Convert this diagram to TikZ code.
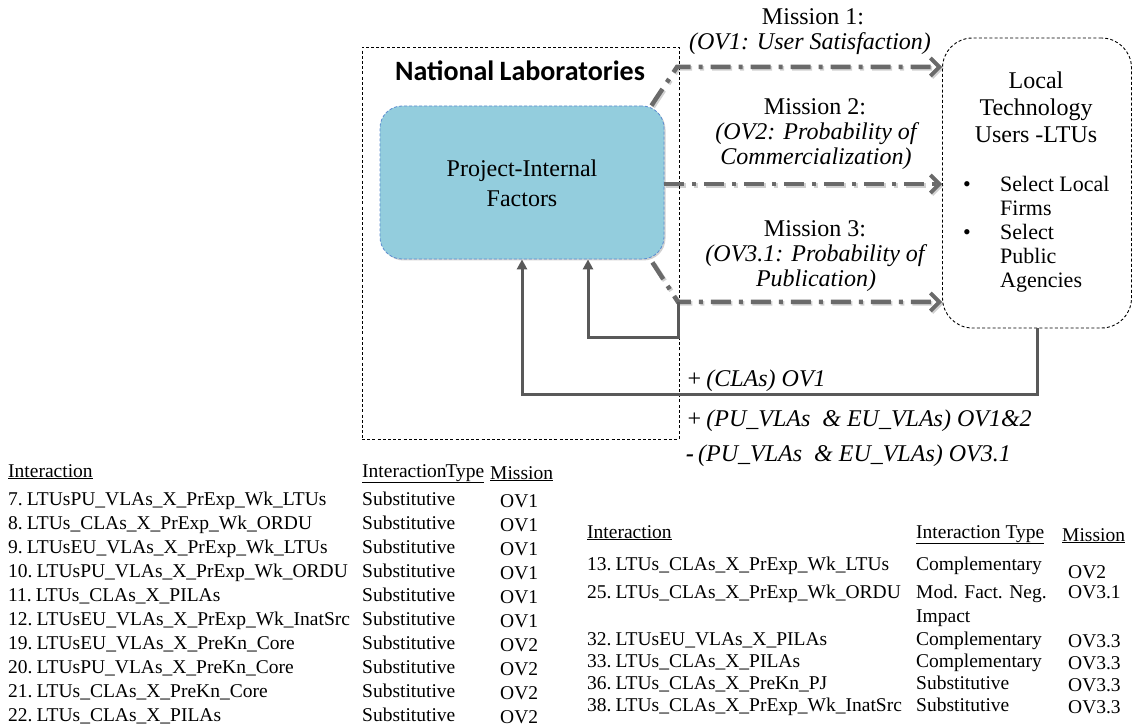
\documentclass[tikz,border=0pt]{standalone}
\usepackage{fontspec}
\setmainfont{Liberation Serif}
\newfontfamily\carl{Carlito}
\usetikzlibrary{arrows.meta,shadows}
\definecolor{pifill}{HTML}{93CDDD}
\definecolor{piedge}{HTML}{5B8BD0}
\definecolor{ddgray}{HTML}{6A6A6A}
\definecolor{fbgray}{HTML}{595959}
\begin{document}
\begin{tikzpicture}[x=1pt,y=-1pt,
  dbox/.style={draw=black, line width=0.9pt, dash pattern=on 3pt off 2.2pt},
  mt/.style={font=\fontsize{24}{26}\selectfont, anchor=base, inner sep=0pt},
  mti/.style={font=\fontsize{24}{26}\selectfont\itshape, anchor=base, inner sep=0pt},
  dda/.style={draw=ddgray, line width=4.5pt, dash pattern=on 20pt off 8pt on 4pt off 8pt,
    -{Straight Barb[length=9pt,width=18pt,line width=3.8pt]}},
  ddsh/.style={dda, draw=black, opacity=0.18, transform canvas={xshift=1.5pt,yshift=-1.5pt}},
  fb/.style={draw=fbgray, line width=3pt, -{Triangle[length=10pt,width=10pt]}},
  lbl/.style={font=\fontsize{24}{26}\selectfont\itshape, anchor=base west, inner sep=0pt},
  bt/.style={font=\fontsize{22}{24}\selectfont, anchor=base west, inner sep=0pt},
  tb/.style={font=\fontsize{19.5}{22}\selectfont, anchor=base west, inner sep=0pt}
]
\useasboundingbox (0,0) rectangle (1141,727);

% boxes
\node[dbox, minimum width=317pt, minimum height=392pt, inner sep=0pt] (natlab) at (520.5,243) {};
\node[font=\carl\bfseries\fontsize{28}{30}\selectfont, anchor=base, inner sep=0pt] (natlabel) at (520,81) {National\kern-1pt\ Laboratories};
\node[fill=pifill, draw=piedge, line width=0.8pt, dash pattern=on 3pt off 2pt,
      rounded corners=22pt, minimum width=284pt, minimum height=153pt, inner sep=0pt,
      drop shadow={shadow xshift=1.5pt, shadow yshift=-1.5pt, opacity=0.3, fill=black!60}] (pif) at (522,182.5) {};
\node[mt] (pif1) at (522,177) {Project-Internal};
\node[mt] (pif2) at (522,207) {Factors};

\node[dbox, rounded corners=30pt, minimum width=189pt, minimum height=290pt, inner sep=0pt] (ltu) at (1037,183) {};
\node[mt] (ltu1) at (1036,89) {Local};
\node[mt] (ltu2) at (1036,116) {Technology};
\node[mt] (ltu3) at (1036,143) {Users -LTUs};
\node[bt] (b1) at (963,192) {\textbullet};
\node[bt] (b1a) at (1000,192) {Select Local};
\node[bt] (b1b) at (1000,216) {Firms};
\node[bt] (b2) at (963,240) {\textbullet};
\node[bt] (b2a) at (1000,240) {Select};
\node[bt] (b2b) at (1000,264) {Public};
\node[bt] (b2c) at (1000,288) {Agencies};

% mission labels
\node[mt] (m1) at (813,25) {Mission 1:};
\node[mti] (m1b) at (810,50) {(OV1: User Satisfaction)};
\node[mt] (m2) at (815,115) {Mission 2:};
\node[mti] (m2b) at (816,140) {(OV2: Probability of};
\node[mti] (m2c) at (816,165) {Commercialization)};
\node[mt] (m3) at (815,237) {Mission 3:};
\node[mti] (m3b) at (815,262) {(OV3.1: Probability of};
\node[mti] (m3c) at (816,287) {Publication)};

% dash-dot arrows
\coordinate (c1) at (677,67);
\coordinate (c3) at (678,302);
\coordinate (y2) at (0,184);
\draw[ddsh] ([xshift=-13pt]pif.north east) -- (c1) -- (c1 -| ltu.west);
\draw[ddsh] (pif.east |- y2) -- (ltu.west |- y2);
\draw[ddsh] ([xshift=-12pt,yshift=-3pt]pif.south east) -- (c3) -- (c3 -| ltu.west);
\draw[dda] ([xshift=-13pt]pif.north east) -- (c1) -- (c1 -| ltu.west);
\draw[dda] (pif.east |- y2) -- (ltu.west |- y2);
\draw[dda] ([xshift=-12pt,yshift=-3pt]pif.south east) -- (c3) -- (c3 -| ltu.west);

% feedback arrows
\coordinate (fbl) at (0,394);
\coordinate (fbm) at (0,338);
\draw[fb] (ltu.south) -- (ltu.south |- fbl) -| (pif.south);
\draw[fb] (c3) -- (c3 |- fbm) -| ([xshift=66pt]pif.south);

% feedback labels
\node[lbl] (l1) at (686,387) {+\,(CLAs) OV1};
\node[lbl] (l2) at (686,426) {+\,(PU\_VLAs \ \& EU\_VLAs) OV1\&2};
\node[lbl] (l3) at (686,461) {\textbf{-}\,(PU\_VLAs \ \& EU\_VLAs) OV3.1};

% left table
\node[tb] (lh1) at (8,477) {\underline{Interaction}};
\node[tb] (lh2) at (362,477) {\underline{Interaction\kern-1pt Type}};
\node[tb] (lh3) at (490,479) {\underline{Mission}};
\foreach \t/\ty/\m [count=\k from 0] in {
  7.\kern4pt LTUsPU\_VLAs\_X\_PrExp\_Wk\_LTUs/Substitutive/OV1,
  8.\kern4pt LTUs\_CLAs\_X\_PrExp\_Wk\_ORDU/Substitutive/OV1,
  9.\kern4pt LTUsEU\_VLAs\_X\_PrExp\_Wk\_LTUs/Substitutive/OV1,
  10.\kern4pt LTUsPU\_VLAs\_X\_PrExp\_Wk\_ORDU/Substitutive/OV1,
  11.\kern4pt LTUs\_CLAs\_X\_PILAs/Substitutive/OV1,
  12.\kern4pt LTUsEU\_VLAs\_X\_PrExp\_Wk\_InatSrc/Substitutive/OV1,
  19.\kern4pt LTUsEU\_VLAs\_X\_PreKn\_Core/Substitutive/OV2,
  20.\kern4pt LTUsPU\_VLAs\_X\_PreKn\_Core/Substitutive/OV2,
  21.\kern4pt LTUs\_CLAs\_X\_PreKn\_Core/Substitutive/OV2,
  22.\kern4pt LTUs\_CLAs\_X\_PILAs/Substitutive/OV2}{
  \node[tb] (la\k) at (8,505+24.1*\k) {\t};
  \node[tb] (lb\k) at (362,505+24.1*\k) {\ty};
  \node[tb] (lc\k) at (500,507+24.1*\k) {\m};
}

% right table
\node[tb] (rh1) at (587,538) {\underline{Interaction}};
\node[tb] (rh2) at (916,538) {\underline{Interaction Type}};
\node[tb] (rh3) at (1062,541) {\underline{Mission}};
\node[tb] (ra1) at (587,570) {13.\kern4pt LTUs\_CLAs\_X\_PrExp\_Wk\_LTUs};
\node[tb] (rb1) at (916,570) {Complementary};
\node[tb] (rc1) at (1068,578) {OV2};
\node[tb] (ra2) at (587,598) {25.\kern4pt LTUs\_CLAs\_X\_PrExp\_Wk\_ORDU};
\node[tb] (rb2) at (916,598) {Mod. Fact. Neg.};
\node[tb] (rb2b) at (916,622) {Impact};
\node[tb] (rc2) at (1068,598) {OV3.1};
\node[tb] (ra3) at (587,645) {32.\kern4pt LTUsEU\_VLAs\_X\_PILAs};
\node[tb] (rb3) at (916,645) {Complementary};
\node[tb] (rc3) at (1068,647) {OV3.3};
\node[tb] (ra4) at (587,667) {33.\kern4pt LTUs\_CLAs\_X\_PILAs};
\node[tb] (rb4) at (916,667) {Complementary};
\node[tb] (rc4) at (1068,669) {OV3.3};
\node[tb] (ra5) at (587,689) {36.\kern4pt LTUs\_CLAs\_X\_PreKn\_PJ};
\node[tb] (rb5) at (916,689) {Substitutive};
\node[tb] (rc5) at (1068,691) {OV3.3};
\node[tb] (ra6) at (587,711) {38.\kern4pt LTUs\_CLAs\_X\_PrExp\_Wk\_InatSrc};
\node[tb] (rb6) at (916,711) {Substitutive};
\node[tb] (rc6) at (1068,713) {OV3.3};
\end{tikzpicture}
\end{document}
